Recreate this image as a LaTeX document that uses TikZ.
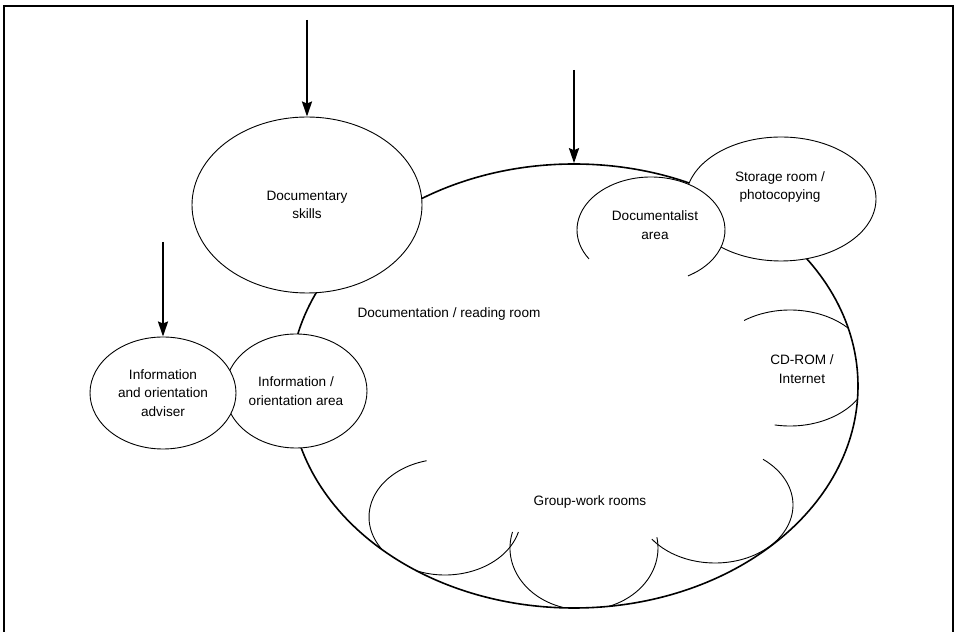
\documentclass[tikz,border=0pt]{standalone}
\usepackage{fontspec}
\setmainfont{Liberation Sans}
\usetikzlibrary{shapes.geometric,arrows.meta}
\tikzstyle{room} = [ellipse, draw=black, line width=0.9pt, fill=white, inner sep=0pt]
\tikzstyle{roomtext} = [align=center, font=\fontsize{13.6}{18.5}\selectfont]
\tikzstyle{part} = [line width=0.9pt]
\tikzstyle{arrow} = [line width=2.2pt,-{Stealth[length=15pt,width=10pt,inset=2pt]}]

\begin{document}
\begin{tikzpicture}[x=1pt,y=1pt]
		\useasboundingbox (0,0) rectangle (954,632);
		\draw[line width=1.2pt] (4,-10) -- (4,626) -- (953,626) -- (953,-10);
		
		\node[room, line width=1.6pt, minimum width=568pt, minimum height=444pt] (reading) at (574,246) {};
		\node[roomtext] (readingtext) at (449,318) {Documentation / reading room};
		
		\node[room, minimum width=190pt, minimum height=124pt] (storage) at (781,433) {};
		
		% documentalist area, open at the bottom left
		\fill[white] (651,402) ellipse [x radius=74, y radius=53];
		\draw[part] (651,402) ++(-60:74 and 53) arc [start angle=-60, end angle=213, x radius=74, y radius=53];
		\node[roomtext] (deskText) at (655,407) {Documentalist\\area};
		\node[roomtext] (storageText) at (780,445) {Storage room /\\photocopying};
		
		% rooms cut by the reading room wall
		\begin{scope}
		\clip (reading.center) ellipse [x radius=284, y radius=222];
		\draw[part] (790,264) ++(-101:80 and 58) arc [start angle=-101, end angle=125, x radius=80, y radius=58];
		\draw[part] (445,115) ++(104:76 and 58) arc [start angle=104, end angle=345, x radius=76, y radius=58];
		\draw[part] (584,84) ++(165:74 and 62) arc [start angle=165, end angle=370, x radius=74, y radius=62];
		\draw[part] (715,127) ++(216:78 and 58) arc [start angle=216, end angle=412, x radius=78, y radius=58];
		\end{scope}
		\node[roomtext] (cdromText) at (802,263) {CD-ROM /\\Internet};
		\node[roomtext] (groupText) at (590,130) {Group-work rooms};
		
		\node[room, roomtext, minimum width=230pt, minimum height=176pt] (skills) at (307,427) {Documentary\\skills};
		\node[room, roomtext, minimum width=142pt, minimum height=114pt] (infoarea) at (296,241) {Information /\\orientation area};
		\node[room, roomtext, minimum width=146pt, minimum height=112pt] (adviser) at (163,239) {Information\\and orientation\\adviser};
		
		\coordinate (skillsIn) at (307,612);
		\coordinate (readingIn) at (574,562);
		\coordinate (adviserIn) at (163,390);
		\draw[arrow] (skillsIn) -- (skills.north);
		\draw[arrow] (readingIn) -- (reading.north);
		\draw[arrow] (adviserIn) -- (adviser.north);
\end{tikzpicture}
\end{document}
